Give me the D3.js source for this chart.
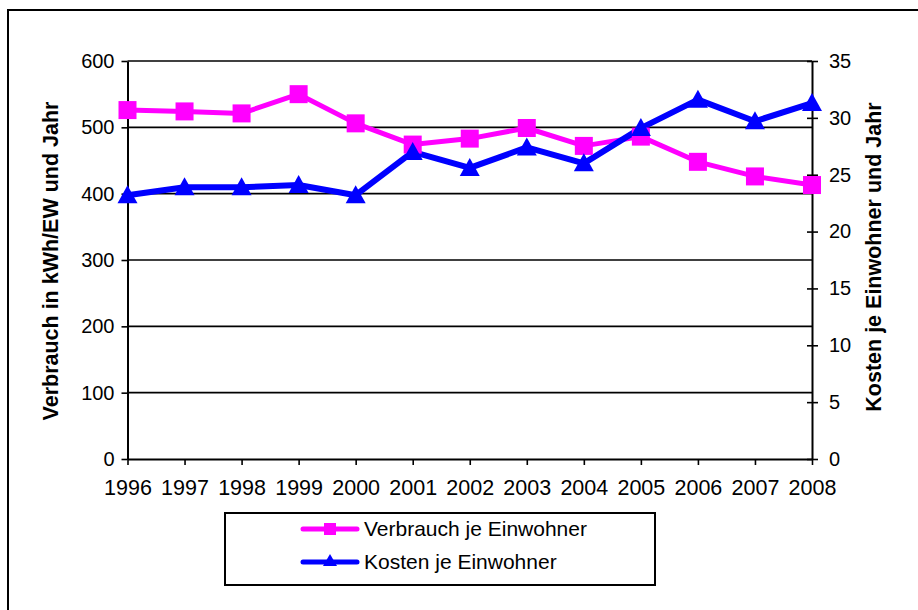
<!DOCTYPE html>
<html><head><meta charset="utf-8">
<script src="https://cdn.jsdelivr.net/npm/d3@7"></script>
<style>
body{margin:0;background:#fff;}
svg{display:block;font-family:Arial,"Liberation Sans",sans-serif;}
</style></head>
<body>
<svg id="c" width="918" height="610"></svg>
<script>
const years = ["1996","1997","1998","1999","2000","2001","2002","2003","2004","2005","2006","2007","2008"];
const verbrauch = [526, 524, 521, 550, 506, 474, 483, 499, 472, 486, 448, 426, 413];
const kosten = [23.2, 23.9, 23.9, 24.1, 23.2, 27.0, 25.6, 27.4, 26.0, 29.1, 31.6, 29.7, 31.3];
const leftTicks = [0,100,200,300,400,500,600];
const rightTicks = [0,5,10,15,20,25,30,35];
const leftTitle = "Verbrauch in kWh/EW und Jahr";
const rightTitle = "Kosten je Einwohner und Jahr";
const seriesNames = ["Verbrauch je Einwohner","Kosten je Einwohner"];
const pink = "#FF00FF", blue = "#0000FF";

const svg = d3.select("#c");
// outer border
svg.append("rect").attr("x",8).attr("y",10).attr("width",1000).attr("height",700)
  .attr("fill","none").attr("stroke","#000").attr("stroke-width",2);

const L = 127.5, R = 812, T = 61, B = 459;
const x = d3.scalePoint().domain(years).range([L,R]);
const yL = d3.scaleLinear().domain([0,600]).range([B,T]);
const yR = d3.scaleLinear().domain([0,35]).range([B,T]);

// gridlines
svg.append("g").selectAll("line").data(leftTicks.filter(d=>d>0)).join("line")
  .attr("x1",L).attr("x2",R).attr("y1",d=>yL(d)).attr("y2",d=>yL(d))
  .attr("stroke","#000").attr("stroke-width",1.6);

const fs = "20px";
// left axis
const gl = svg.append("g").attr("transform",`translate(${L},0)`)
  .call(d3.axisLeft(yL).tickValues(leftTicks).tickSize(6).tickPadding(7).tickSizeOuter(0));
// right axis
const gr = svg.append("g").attr("transform",`translate(${R},0)`)
  .call(d3.axisRight(yR).tickValues(rightTicks).tickSize(6).tickPadding(11).tickSizeOuter(0));
gr.selectAll(".tick line").attr("x1",-5);
// bottom axis
const gb = svg.append("g").attr("transform",`translate(0,${B})`)
  .call(d3.axisBottom(x).tickSize(6).tickPadding(15).tickSizeOuter(0));

[gl,gr,gb].forEach(g=>{
  g.selectAll("path.domain").attr("stroke","#000").attr("stroke-width",2);
  g.selectAll(".tick line").attr("stroke","#000").attr("stroke-width",1.6);
  g.selectAll(".tick text").attr("fill","#000").style("font-size",fs)
   .style("font-family",'Arial,"Liberation Sans",sans-serif');
});
gb.selectAll(".tick text").attr("dy","0.71em").style("font-size","21.5px");

// axis titles
svg.append("text").attr("transform",`translate(58,261) rotate(-90)`)
  .attr("text-anchor","middle").style("font-size","21.5px").style("font-weight","bold").text(leftTitle);
svg.append("text").attr("transform",`translate(881,257) rotate(-90)`)
  .attr("text-anchor","middle").style("font-size","21.5px").style("font-weight","bold").text(rightTitle);

// lines
const lineL = d3.line().x((d,i)=>x(years[i])).y(d=>yL(d));
const lineR = d3.line().x((d,i)=>x(years[i])).y(d=>yR(d));
svg.append("path").datum(verbrauch).attr("d",lineL).attr("fill","none")
  .attr("stroke",pink).attr("stroke-width",5).attr("stroke-linejoin","round");
svg.append("path").datum(kosten).attr("d",lineR).attr("fill","none")
  .attr("stroke",blue).attr("stroke-width",6).attr("stroke-linejoin","round");

function tri(w,h){ return `M0,${-h/2}L${w/2},${h/2}L${-w/2},${h/2}Z`; }
svg.append("g").selectAll("rect").data(verbrauch).join("rect")
  .attr("x",(d,i)=>x(years[i])-9).attr("y",d=>yL(d)-9).attr("width",18).attr("height",18)
  .attr("fill",pink);
svg.append("g").selectAll("path").data(kosten).join("path")
  .attr("transform",(d,i)=>`translate(${x(years[i])},${yR(d)-1})`).attr("d",tri(20,18))
  .attr("fill",blue);

// legend
const lg = svg.append("g");
lg.append("rect").attr("x",225).attr("y",513).attr("width",430).attr("height",72)
  .attr("fill","#fff").attr("stroke","#000").attr("stroke-width",2);
const ly = [529,562];
lg.append("line").attr("x1",303).attr("x2",357).attr("y1",ly[0]).attr("y2",ly[0])
  .attr("stroke",pink).attr("stroke-width",5).attr("stroke-linecap","round");
lg.append("rect").attr("x",330-6).attr("y",ly[0]-6).attr("width",12).attr("height",12).attr("fill",pink);
lg.append("line").attr("x1",303).attr("x2",357).attr("y1",ly[1]).attr("y2",ly[1])
  .attr("stroke",blue).attr("stroke-width",5).attr("stroke-linecap","round");
lg.append("path").attr("transform",`translate(330,${ly[1]-2})`).attr("d",tri(14,12)).attr("fill",blue);
lg.selectAll("text.lt").data(seriesNames).join("text").attr("class","lt")
  .attr("x",364).attr("y",(d,i)=>ly[i]).attr("dy","0.35em")
  .style("font-size","21px").text(d=>d);
</script>
</body></html>
